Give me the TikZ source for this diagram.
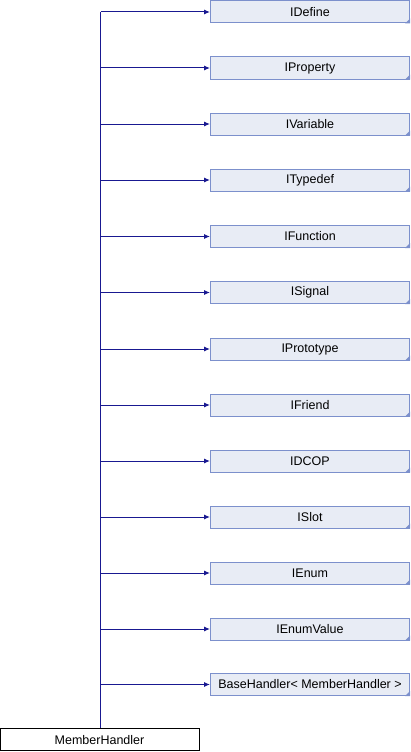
\documentclass[tikz,border=0pt]{standalone}
\usepackage{fontspec}
\setmainfont{Liberation Sans}
\usetikzlibrary{arrows.meta}
\definecolor{boxfill}{RGB}{232,236,245}
\definecolor{boxdraw}{RGB}{124,144,204}
\definecolor{edgecol}{RGB}{25,25,145}
\tikzset{
  cls/.style={draw=boxdraw, fill=boxfill, line width=1pt, minimum width=199pt, minimum height=22pt, inner sep=0pt, font=\fontsize{12.5}{14}\selectfont, anchor=west},
  mainbox/.style={draw=black, fill=white, line width=1pt, minimum width=199pt, minimum height=22.5pt, inner sep=0pt, font=\fontsize{12.5}{14}\selectfont},
  edge/.style={draw=edgecol, line width=1pt, -{Latex[length=6pt,width=5pt]}},
  trunk/.style={draw=edgecol, line width=1pt}
}
\begin{document}
\begin{tikzpicture}[x=1pt,y=-1pt]
\useasboundingbox (0,0) rectangle (410,752);
\node[mainbox] (mh) at (99.5,739.7) {MemberHandler};
\coordinate (top) at (100.5,12);
\draw[trunk] (mh.north -| top) -- (top);
\foreach \name/\lab/\y in {
  d/IDefine/12, p/IProperty/68, v/IVariable/124, t/ITypedef/180,
  f/IFunction/236.5, s/ISignal/292.5, pr/IPrototype/349, fr/IFriend/405,
  dc/IDCOP/461, sl/ISlot/517, e/IEnum/573, ev/IEnumValue/629,
  bh/{BaseHandler< MemberHandler >}/684.5}{
  \node[cls] (\name) at (210,\y) {\lab};
  \fill[boxdraw] (\name.south east) -- ++(-5,0) -- ++(5,-5) -- cycle;
  \coordinate (j\name) at (100.5,\y);
  \draw[edge] (j\name) -- (\name.west);
}
\end{tikzpicture}
\end{document}
